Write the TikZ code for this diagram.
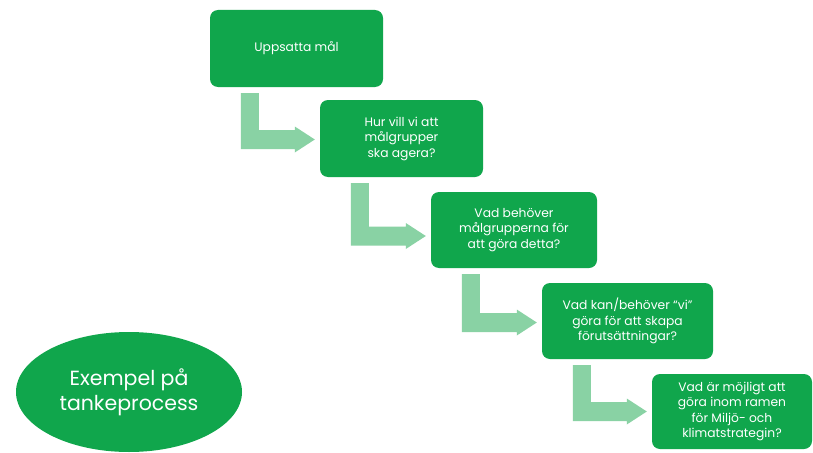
\documentclass[tikz,border=0pt]{standalone}
\usepackage{fontspec}
\setmainfont{Poppins}
\usetikzlibrary{calc,shapes.geometric}
\definecolor{boxgreen}{RGB}{16,166,76}
\definecolor{arrowgreen}{RGB}{137,210,164}
\tikzset{
  stepbox/.style={fill=boxgreen, rounded corners=8pt, text=white, align=center,
    inner sep=2pt, font=\fontsize{12.3}{15.5}\selectfont},
  titleoval/.style={ellipse, fill=boxgreen, text=white, align=center, inner sep=0pt,
    minimum width=226pt, minimum height=120pt, font=\fontsize{20.5}{25}\selectfont},
  arrowfill/.style={fill=arrowgreen}
}
% bent arrow from box #1 to box #2; #3 = vertical offset (pt, downwards) of shaft centre
\newcommand\bentarrow[3]{%
  \path let \p1=(#1.south west), \p2=(#2.west) in
    \pgfextra{\pgfmathsetmacro\yc{\y2-#3}}
    [arrowfill] (\x1+31pt,\y1-6pt) -- (\x1+49pt,\y1-6pt) -- (\x1+49pt,\yc pt+9.5pt)
    -- (\x2-25pt,\yc pt+9.5pt) -- (\x2-25pt,\yc pt+13pt) -- (\x2-5pt,\yc pt)
    -- (\x2-25pt,\yc pt-13pt) -- (\x2-25pt,\yc pt-9.5pt) -- (\x1+31pt,\yc pt-9.5pt) -- cycle;}
\begin{document}
\begin{tikzpicture}[x=1pt,y=-1pt]
\useasboundingbox[fill=white] (0,0) rectangle (813,452);
\node[stepbox, minimum width=173pt, minimum height=77pt] (b1) at (296.5,48.5) {Uppsatta mål};
\node[stepbox, minimum width=163pt, minimum height=77pt] (b2) at (401.5,138.5) {Hur vill vi att\\målgrupper\\ska agera?};
\node[stepbox, minimum width=166pt, minimum height=76pt] (b3) at (514,230) {Vad behöver\\målgrupperna för\\att göra detta?};
\node[stepbox, minimum width=171pt, minimum height=76pt] (b4) at (627.5,321) {Vad kan/behöver “vi”\\göra för att skapa\\förutsättningar?};
\node[stepbox, minimum width=160pt, minimum height=75pt] (b5) at (732,411.5) {Vad är möjligt att\\göra inom ramen\\för Miljö- och\\klimatstrategin?};
\node[titleoval] (t) at (129,392) {Exempel på\\tankeprocess};
\bentarrow{b1}{b2}{1}
\bentarrow{b2}{b3}{6}
\bentarrow{b3}{b4}{1.5}
\bentarrow{b4}{b5}{0}
\end{tikzpicture}
\end{document}
